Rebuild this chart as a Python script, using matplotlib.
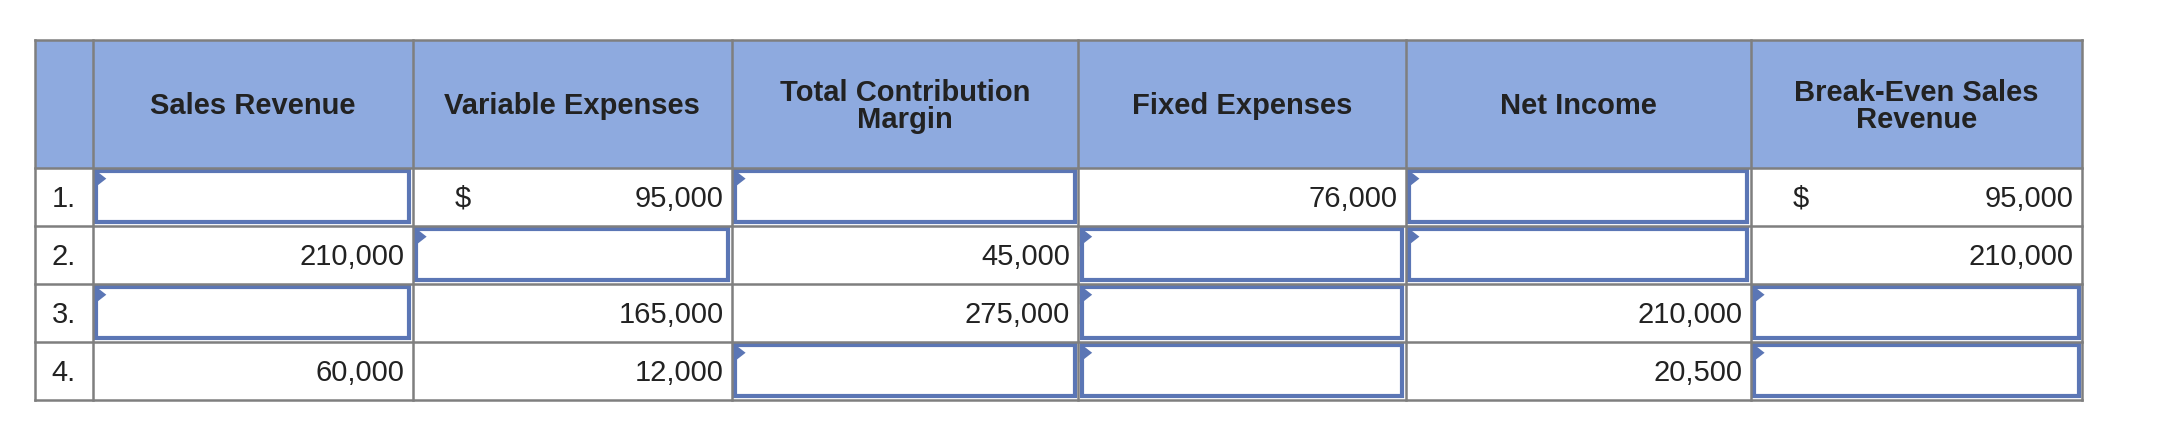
import matplotlib
matplotlib.use("Agg")
import matplotlib.pyplot as plt
from matplotlib.patches import Rectangle, Polygon

plt.rcParams["font.family"] = ["Liberation Sans", "DejaVu Sans"]

HEADERS = ["", "Sales Revenue", "Variable Expenses", "Total Contribution\nMargin",
           "Fixed Expenses", "Net Income", "Break-Even Sales\nRevenue"]
ROW_LABELS = ["1.", "2.", "3.", "4."]
# None = empty input box
VALUES = [
    [None, "95,000", None, "76,000", None, "95,000"],
    ["210,000", None, "45,000", None, None, "210,000"],
    [None, "165,000", "275,000", None, "210,000", None],
    ["60,000", "12,000", None, None, "20,500", None],
]
DOLLAR = [[False, True, False, False, False, True],
          [False] * 6, [False] * 6, [False] * 6]

COL_X = [25, 67, 299, 530, 781, 1018, 1268, 1508]
ROW_Y = [30, 122, 164, 206, 248, 290]
HEAD_BG = "#8eaadf"
GRID = "#7f7f7f"
BOX = "#5b76b5"
FS = 21

fig = plt.figure(figsize=(21.65, 4.27), dpi=100)
ax = fig.add_axes([0, 0, 1, 1])
ax.set_xlim(0, 1568)
ax.set_ylim(309, 0)
ax.axis("off")

ax.add_patch(Rectangle((COL_X[0], ROW_Y[0]), COL_X[-1] - COL_X[0], ROW_Y[1] - ROW_Y[0],
                       facecolor=HEAD_BG, edgecolor="none"))
for x in COL_X:
    ax.plot([x, x], [ROW_Y[0], ROW_Y[-1]], color=GRID, lw=1.8)
for y in ROW_Y:
    ax.plot([COL_X[0], COL_X[-1]], [y, y], color=GRID, lw=1.8)

for j, h in enumerate(HEADERS):
    if h:
        ax.text((COL_X[j] + COL_X[j + 1]) / 2, (ROW_Y[0] + ROW_Y[1]) / 2 + 1, h,
                ha="center", va="center", fontsize=FS, fontweight="bold",
                color="#222222", linespacing=0.95)

for i, lab in enumerate(ROW_LABELS):
    y0, y1 = ROW_Y[i + 1], ROW_Y[i + 2]
    yc = (y0 + y1) / 2 + 1
    ax.text(COL_X[0] + 21, yc, lab, ha="center", va="center", fontsize=FS, color="#222222")
    for j, v in enumerate(VALUES[i]):
        x0, x1 = COL_X[j + 1], COL_X[j + 2]
        if v is None:
            ax.add_patch(Rectangle((x0 + 2.5, y0 + 2.5), x1 - x0 - 5, y1 - y0 - 5,
                                   facecolor="white", edgecolor=BOX, lw=3))
            ax.add_patch(Polygon([(x0 + 1, y0 + 1), (x0 + 10, y0 + 8), (x0 + 1, y0 + 15)],
                                 closed=True, facecolor=BOX, edgecolor="none"))
        else:
            ax.text(x1 - 6, yc, v, ha="right", va="center", fontsize=FS, color="#222222")
            if DOLLAR[i][j]:
                ax.text(x0 + 30, yc, "$", ha="left", va="center", fontsize=FS,
                        color="#222222")

fig.savefig("out.png", dpi=100)
